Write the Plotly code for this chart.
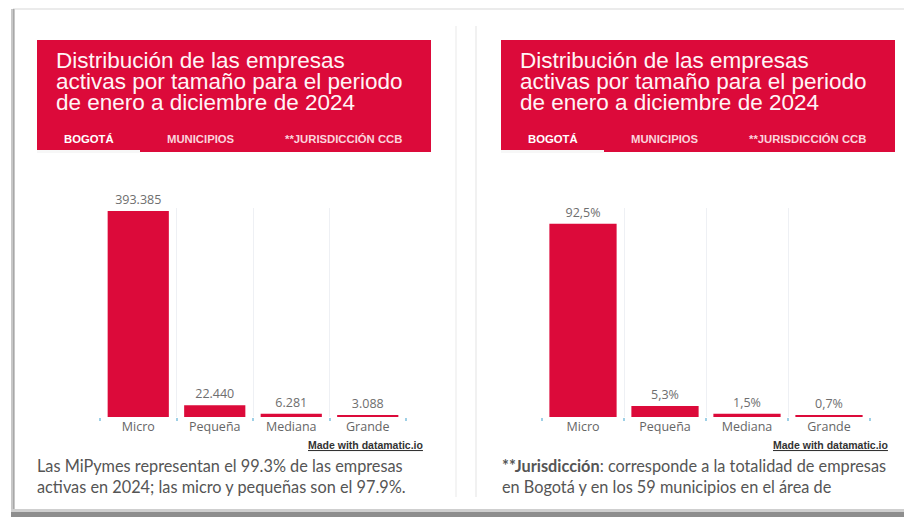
import plotly.graph_objects as go

# --- data -------------------------------------------------------------
categorias = ["Micro", "Pequeña", "Mediana", "Grande"]
empresas_bogota = [393385, 22440, 6281, 3088]
participacion_pct = [92.5, 5.3, 1.5, 0.7]

titulo = ["Distribución de las empresas",
          "activas por tamaño para el periodo",
          "de enero a diciembre de 2024"]
pestanas = ["BOGOTÁ", "MUNICIPIOS", "**JURISDICCIÓN CCB"]
nota_izq = ["Las MiPymes representan el 99.3% de las empresas",
            "activas en 2024; las micro y pequeñas son el 97.9%."]
nota_der = ["<b>**Jurisdicción</b>: corresponde a la totalidad de empresas",
            "en Bogotá y en los 59 municipios en el área de"]
credito = "Made with datamatic.io"

# --- page geometry (pixels) ---------------------------------------------
W, H = 904, 519
RED = "#dc0a3a"


def px(x):
    return x / W


def py(y):
    return 1 - y / H


def fmt_miles(v):
    return f"{v:,}".replace(",", ".")


def fmt_pct(v):
    return f"{v:.1f}%".replace(".", ",")


fig = go.Figure()

bar_common = dict(marker=dict(color=RED, line=dict(width=0)),
                  textposition="outside", cliponaxis=False,
                  textfont=dict(family="Open Sans", size=12.5, color="#6e6e6e"),
                  hoverinfo="skip", showlegend=False)

fig.add_trace(go.Bar(x=categorias, y=empresas_bogota, width=0.8,
                     text=[fmt_miles(v) for v in empresas_bogota],
                     xaxis="x", yaxis="y", **bar_common))
fig.add_trace(go.Bar(x=categorias, y=participacion_pct, width=0.82,
                     text=[fmt_pct(v) for v in participacion_pct],
                     xaxis="x2", yaxis="y2", **bar_common))

xcommon = dict(type="category", tickson="boundaries", range=[-0.5, 3.5],
               showgrid=True, gridcolor="#eef0f4", gridwidth=1,
               ticks="outside", ticklen=3, tickwidth=1.5, tickcolor="#9fd0e6",
               showline=False, zeroline=False, fixedrange=True,
               tickfont=dict(family="Open Sans", size=12.5, color="#666"))
ycommon = dict(visible=False, showgrid=False, zeroline=False, fixedrange=True)

fig.update_layout(
    width=W, height=H,
    margin=dict(l=0, r=0, t=0, b=0),
    paper_bgcolor="white", plot_bgcolor="rgba(0,0,0,0)",
    bargap=0.2,
    xaxis=dict(domain=[px(100), px(406)], anchor="y", **xcommon),
    yaxis=dict(domain=[py(417), py(208)], anchor="x",
               range=[0, empresas_bogota[0] * 209 / 206], **ycommon),
    xaxis2=dict(domain=[px(542), px(870)], anchor="y2", **xcommon),
    yaxis2=dict(domain=[py(417), py(208)], anchor="x2",
                range=[0, 100], **ycommon),
)

shapes = []


def rect(x0, y0, x1, y1, color, layer="below"):
    shapes.append(dict(type="rect", xref="paper", yref="paper",
                       x0=px(x0), x1=px(x1), y0=py(y1), y1=py(y0),
                       fillcolor=color, line=dict(width=0), layer=layer))


def line(x0, y0, x1, y1, color, width=1):
    shapes.append(dict(type="line", xref="paper", yref="paper",
                       x0=px(x0), x1=px(x1), y0=py(y0), y1=py(y1),
                       line=dict(color=color, width=width), layer="below"))


# card outlines and shadows
line(13, 9, W, 9, "#e4e4e4", 1.5)
rect(11, 9, 15, 512, "#c8c8c8")
rect(13, 9, 14, 512, "#a8a8a8")
line(456, 26, 456, 497, "#f0f0f0", 1.5)
line(476, 26, 476, 497, "#ececec", 1.5)
rect(11, 509, W, 512, "#cfcfcf")
rect(11, 512, W, 517, "#8e8e8e")

annotations = []

for x0 in (37, 501):
    # red header block
    rect(x0, 40, x0 + 394, 152, RED)
    # active tab indicator
    rect(x0, 150, x0 + 103, 153, "#f7f7f7")
    for i, t in enumerate(titulo):
        annotations.append(dict(xref="paper", yref="paper",
                                x=px(x0 + 17), y=py(61 + 20.5 * i),
                                xanchor="left", yanchor="middle",
                                text=t, showarrow=False,
                                font=dict(family="Liberation Sans", size=22.5,
                                          color="#fff4f6")))
    tab_x = [x0 + 25, x0 + 128, x0 + 246]
    tab_col = ["#ffffff", "#fbd3dc", "#fbd3dc"]
    for t, tx, tc in zip(pestanas, tab_x, tab_col):
        annotations.append(dict(xref="paper", yref="paper",
                                x=px(tx), y=py(139), xanchor="left",
                                yanchor="middle", text=f"<b>{t}</b>",
                                showarrow=False,
                                font=dict(family="Liberation Sans", size=11.3,
                                          color=tc)))

for xr in (425, 890):
    annotations.append(dict(xref="paper", yref="paper", x=px(xr), y=py(445),
                            xanchor="right", yanchor="middle",
                            text=f"<b>{credito}</b>", showarrow=False,
                            font=dict(family="Liberation Sans", size=10.5,
                                      color="#333", lineposition="under")))

for xl, lines in ((35, nota_izq), (500, nota_der)):
    for i, t in enumerate(lines):
        annotations.append(dict(xref="paper", yref="paper", x=px(xl),
                                y=py(465 + 21 * i), xanchor="left",
                                yanchor="middle", text=t, showarrow=False,
                                font=dict(family="Lato", size=16.3,
                                          color="#555")))

fig.update_layout(shapes=shapes, annotations=annotations)

fig.write_html("out.html")
